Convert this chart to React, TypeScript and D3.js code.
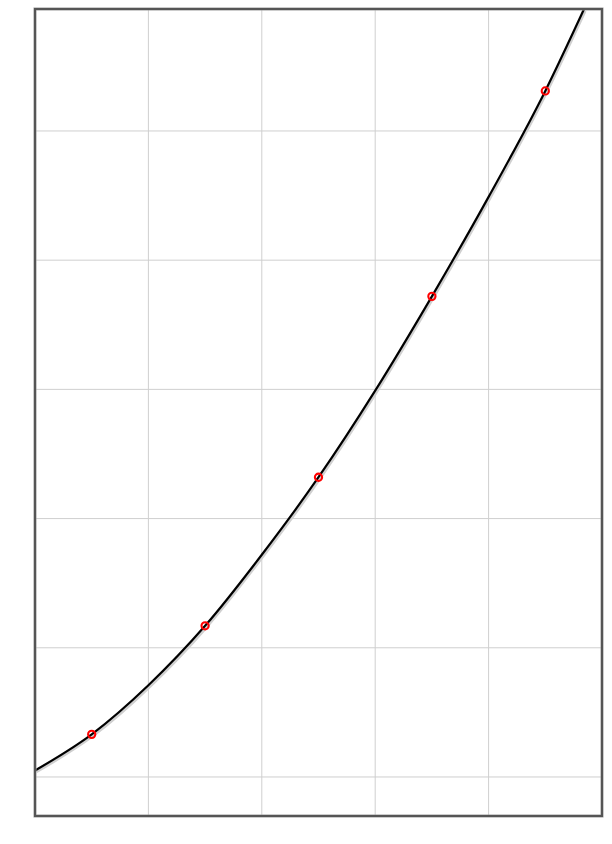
import {useEffect, useRef} from 'react';
import * as d3 from 'd3';

// values (x in grid units, y in grid units of 10)
const curveX = [0, 0.5, 1, 1.5, 2, 2.5, 3, 3.5, 4, 4.5, 4.84];
const curveY = [0.5, 3.3, 7.1, 11.7, 17.2, 23.2, 29.9, 37.2, 44.9, 53.1, 59.4];
const pointX = [0.5, 1.5, 2.5, 3.5, 4.5];
const pointY = [3.3, 11.7, 23.2, 37.2, 53.1];
const xTicks = [1, 2, 3, 4];
const yTicks = [0, 10, 20, 30, 40, 50];

const width = 612;
const height = 844;
const margin = {top: 9, right: 10, bottom: 28, left: 35};

const App = () => {
    const svgRef = useRef(null);

    useEffect(() => {
        const svg = d3.select(svgRef.current);
        svg.selectAll('*').remove();

        const x = d3.scaleLinear().domain([0, 5]).range([margin.left, width - margin.right]);
        const y = d3.scaleLinear().domain([-3.02, 59.44]).range([height - margin.bottom, margin.top]);

        svg.append('rect').attr('width', width).attr('height', height).attr('fill', '#fff');

        // grid
        const g = svg.append('g');
        g.selectAll('.vg').data(xTicks).enter().append('line')
            .attr('x1', d => x(d)).attr('x2', d => x(d))
            .attr('y1', y.range()[0]).attr('y2', y.range()[1])
            .attr('stroke', '#cfcfcf').attr('stroke-width', 1);
        g.selectAll('.hg').data(yTicks).enter().append('line')
            .attr('x1', x.range()[0]).attr('x2', x.range()[1])
            .attr('y1', d => y(d)).attr('y2', d => y(d))
            .attr('stroke', '#cfcfcf').attr('stroke-width', 1);

        const data = curveX.map((v, i) => ({x: v, y: curveY[i]}));
        const line = d3.line<any>().x(d => x(d.x)).y(d => y(d.y)).curve(d3.curveMonotoneX);

        // shadow under the line
        svg.append('path').datum(data)
            .attr('fill', 'none')
            .attr('stroke', '#d0d0d0')
            .attr('stroke-width', 2.5)
            .attr('transform', 'translate(1.5,1.5)')
            .attr('d', line);

        svg.append('path').datum(data)
            .attr('fill', 'none')
            .attr('stroke', '#000')
            .attr('stroke-width', 2.2)
            .attr('d', line);

        svg.selectAll('.dot').data(pointX).enter().append('circle')
            .attr('cx', d => x(d))
            .attr('cy', (d, i) => y(pointY[i]))
            .attr('r', 3.6)
            .attr('fill', 'none')
            .attr('stroke', '#f00')
            .attr('stroke-width', 2.1);

        // frame
        const [x0, x1] = x.range();
        const [y0, y1] = y.range();
        svg.append('rect')
            .attr('x', x0).attr('y', y1).attr('width', x1 - x0).attr('height', y0 - y1)
            .attr('fill', 'none').attr('stroke', '#999').attr('stroke-width', 3);
        svg.append('rect')
            .attr('x', x0).attr('y', y1).attr('width', x1 - x0).attr('height', y0 - y1)
            .attr('fill', 'none').attr('stroke', '#555').attr('stroke-width', 2);
    }, []);

    return (
        <svg ref={svgRef} width={width} height={height}
             style={{position: 'absolute', left: 0, top: 0}}></svg>
    );
};

export default App;
